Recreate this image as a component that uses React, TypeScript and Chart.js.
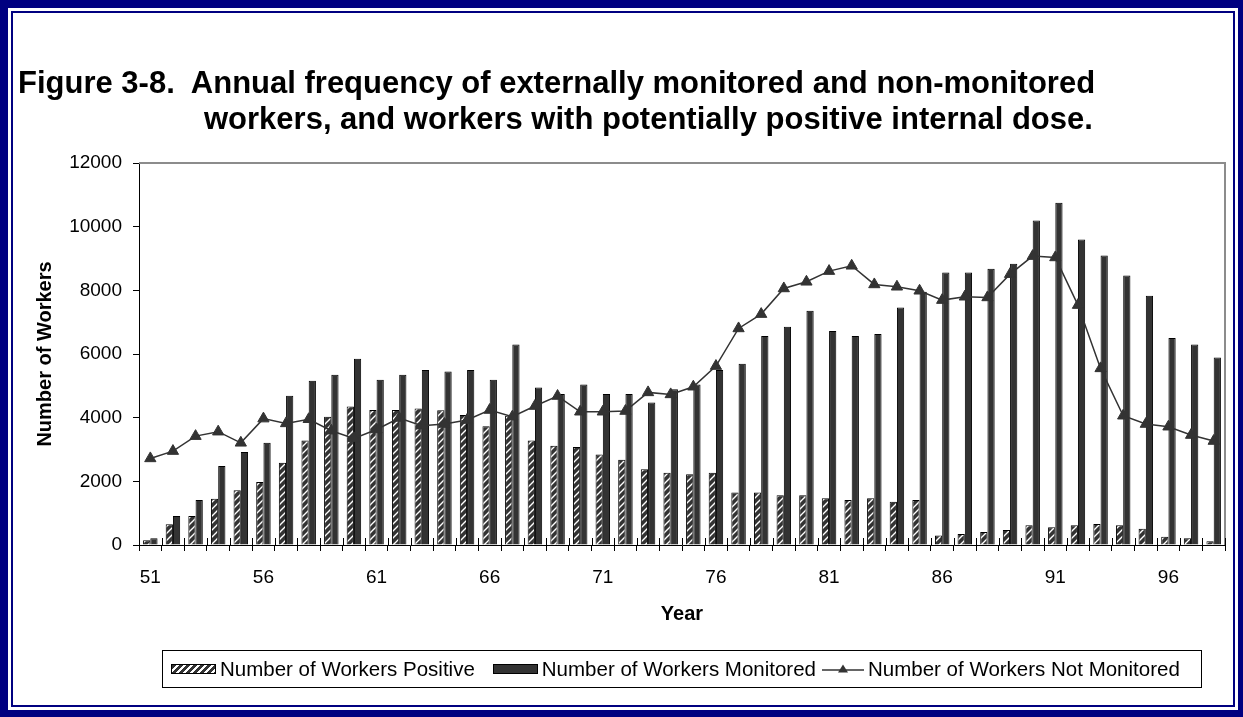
import React, { useEffect, useRef } from 'react';
import { Chart, registerables } from 'chart.js';

Chart.register(...registerables);

const years = [
  '51', '52', '53', '54', '55', '56', '57', '58', '59', '60',
  '61', '62', '63', '64', '65', '66', '67', '68', '69', '70',
  '71', '72', '73', '74', '75', '76', '77', '78', '79', '80',
  '81', '82', '83', '84', '85', '86', '87', '88', '89', '90',
  '91', '92', '93', '94', '95', '96', '97', '98',
];

const workersPositive = [
  150, 650, 910, 1455, 1717, 1978, 2585, 3286, 4030, 4354,
  4240, 4240, 4290, 4230, 4080, 3730, 4060, 3280, 3120, 3080,
  2840, 2680, 2380, 2270, 2220, 2270, 1650, 1650, 1560, 1560,
  1465, 1410, 1465, 1360, 1410, 300, 345, 410, 470, 620,
  555, 620, 660, 620, 510, 260, 210, 115,
];

const workersMonitored = [
  210, 910, 1413, 2480, 2920, 3213, 4690, 5160, 5350, 5850,
  5190, 5350, 5495, 5450, 5495, 5190, 6300, 4950, 4740, 5045,
  4740, 4740, 4480, 4890, 5040, 5495, 5694, 6563, 6856, 7358,
  6720, 6563, 6626, 7463, 7955, 8562, 8562, 8677, 8834, 10195,
  10749, 9598, 9096, 8468, 7829, 6500, 6301, 5893,
];

const workersNotMonitored = [
  2720, 2950, 3420, 3560, 3210, 3970, 3820, 3950, 3590, 3350,
  3630, 3990, 3750, 3800, 3925, 4240, 4030, 4365, 4680, 4186,
  4186, 4208, 4794, 4731, 4972, 5621, 6803, 7253, 8059, 8268,
  8604, 8771, 8185, 8112, 7986, 7693, 7798, 7777, 8509, 9075,
  9033, 7536, 5548, 4061, 3800, 3716, 3454, 3266,
];

const yAxisTicks = [0, 2000, 4000, 6000, 8000, 10000, 12000];
const labelledYears = ['51', '56', '61', '66', '71', '76', '81', '86', '91', '96'];

const titleLine1 = 'Figure 3-8.  Annual frequency of externally monitored and non-monitored';
const titleLine2 = 'workers, and workers with potentially positive internal dose.';
const legendLabels = [
  'Number of Workers Positive',
  'Number of Workers Monitored',
  'Number of Workers Not Monitored',
];
const xTitle = 'Year';
const yTitle = 'Number of Workers';

const FONT = '"Liberation Sans", Arial, Helvetica, sans-serif';
const NAVY = '#000080';
const DARK = '#333333';

function makeHatch(): CanvasPattern | string {
  const c = document.createElement('canvas');
  c.width = 7;
  c.height = 7;
  const g = c.getContext('2d');
  if (!g) return DARK;
  g.fillStyle = DARK;
  g.fillRect(0, 0, 7, 7);
  g.strokeStyle = '#ffffff';
  g.lineWidth = 1.4;
  g.beginPath();
  g.moveTo(-1, 8);
  g.lineTo(8, -1);
  g.moveTo(-2, 2);
  g.lineTo(2, -2);
  g.moveTo(5, 9);
  g.lineTo(9, 5);
  g.stroke();
  const p = g.createPattern(c, 'repeat');
  return p || DARK;
}

const plotFrame = {
  id: 'plotFrame',
  beforeDatasetsDraw(chart: any) {
    const { ctx, chartArea } = chart;
    const { left, top, right, bottom } = chartArea;
    ctx.save();
    ctx.strokeStyle = '#8c8c8c';
    ctx.lineWidth = 2;
    ctx.beginPath();
    ctx.moveTo(left, top);
    ctx.lineTo(right, top);
    ctx.lineTo(right, bottom);
    ctx.stroke();
    // inner half of the crossing category ticks
    const xs = chart.scales.x;
    ctx.strokeStyle = '#000';
    ctx.lineWidth = 1;
    ctx.beginPath();
    for (let i = 0; i <= years.length; i++) {
      const px = Math.round(xs.getPixelForValue(i - 0.5)) + 0.5;
      ctx.moveTo(px, bottom);
      ctx.lineTo(px, bottom - 7);
    }
    ctx.stroke();
    ctx.restore();
  },
};

export default function App() {
  const canvasRef = useRef<HTMLCanvasElement | null>(null);

  useEffect(() => {
    const canvas = canvasRef.current;
    if (!canvas) return;
    const hatch = makeHatch();
    const chart = new Chart(canvas, {
      type: 'bar',
      data: {
        labels: years,
        datasets: [
          {
            type: 'bar',
            label: legendLabels[0],
            data: workersPositive,
            backgroundColor: hatch as any,
            borderColor: '#000',
            borderWidth: 1,
            barPercentage: 1,
            categoryPercentage: 0.64,
            order: 1,
          },
          {
            type: 'bar',
            label: legendLabels[1],
            data: workersMonitored,
            backgroundColor: DARK,
            borderColor: '#000',
            borderWidth: 1,
            barPercentage: 1,
            categoryPercentage: 0.64,
            order: 1,
          },
          {
            type: 'line',
            label: legendLabels[2],
            data: workersNotMonitored,
            borderColor: DARK,
            borderWidth: 1.5,
            pointStyle: 'triangle',
            pointRadius: 6.5,
            pointBackgroundColor: DARK,
            pointBorderColor: DARK,
            pointBorderWidth: 1,
            tension: 0,
            order: 0,
          } as any,
        ],
      },
      options: {
        responsive: false,
        animation: false,
        devicePixelRatio: 1,
        layout: { padding: { left: 33, right: 18, top: 163, bottom: 82 } },
        plugins: {
          legend: { display: false },
          tooltip: { enabled: false },
          title: { display: false },
        },
        scales: {
          x: {
            grid: {
              display: true,
              drawOnChartArea: false,
              offset: true,
              tickLength: 6,
              color: '#000',
              lineWidth: 1,
            },
            border: { display: true, color: '#000', width: 1 },
            ticks: {
              autoSkip: false,
              maxRotation: 0,
              minRotation: 0,
              padding: 15,
              color: '#000',
              font: { size: 19, family: FONT },
              callback: (_v: any, i: number) =>
                labelledYears.includes(years[i]) ? years[i] : '',
            },
            title: {
              display: true,
              text: xTitle,
              color: '#000',
              font: { size: 20, weight: 'bold', family: FONT },
              padding: { top: 0, bottom: 9 },
            },
            afterFit: (s: any) => {
              s.height = 90;
            },
          },
          y: {
            min: 0,
            max: 12000,
            afterBuildTicks: (s: any) => {
              s.ticks = yAxisTicks.map((v) => ({ value: v }));
            },
            grid: {
              drawOnChartArea: false,
              tickLength: 6,
              color: '#000',
              lineWidth: 1,
            },
            border: { display: true, color: '#000', width: 1 },
            ticks: {
              padding: 11,
              color: '#000',
              font: { size: 19, family: FONT },
              callback: (v: any) => String(v),
            },
            title: {
              display: true,
              text: yTitle,
              color: '#000',
              font: { size: 20, weight: 'bold', family: FONT },
              padding: { top: 0, bottom: 0 },
            },
            afterFit: (s: any) => {
              s.width = 106;
            },
          },
        },
      } as any,
      plugins: [plotFrame],
    });
    return () => {
      chart.destroy();
    };
  }, []);

  const swatchBase: React.CSSProperties = {
    width: 45,
    height: 10,
    boxSizing: 'border-box',
    border: '1px solid #000',
    flexShrink: 0,
  };

  return (
    <div
      style={{
        position: 'fixed',
        left: 0,
        top: 0,
        width: 1243,
        height: 717,
        background: '#fff',
        overflow: 'hidden',
        fontFamily: FONT,
      }}
    >
      <div
        style={{
          position: 'absolute',
          left: 0,
          top: 0,
          width: 1243,
          height: 717,
          boxSizing: 'border-box',
          borderStyle: 'solid',
          borderColor: NAVY,
          borderWidth: '8px 5px 7px 8px',
        }}
      >
        <div
          style={{
            position: 'absolute',
            left: 3,
            top: 3,
            right: 3,
            bottom: 3,
            border: `2px solid ${NAVY}`,
          }}
        />
      </div>
      <canvas
        ref={canvasRef}
        width={1243}
        height={717}
        style={{ position: 'absolute', left: 0, top: 0, width: 1243, height: 717 }}
      />
      <div
        style={{
          position: 'absolute',
          left: 18,
          top: 65,
          fontSize: 31,
          fontWeight: 'bold',
          lineHeight: '36px',
          color: '#000',
          whiteSpace: 'pre',
        }}
      >
        <div>{titleLine1}</div>
        <div style={{ marginLeft: 186 }}>{titleLine2}</div>
      </div>
      <div
        style={{
          position: 'absolute',
          left: 162,
          top: 650,
          width: 1040,
          height: 38,
          boxSizing: 'border-box',
          border: '1px solid #000',
          display: 'flex',
          alignItems: 'center',
          paddingLeft: 8,
          fontSize: 20.5,
          color: '#000',
          whiteSpace: 'nowrap',
        }}
      >
        <span
          style={{
            ...swatchBase,
            background: `repeating-linear-gradient(135deg, ${DARK} 0px, ${DARK} 3px, #fff 3px, #fff 5px)`,
          }}
        />
        <span style={{ marginLeft: 4 }}>{legendLabels[0]}</span>
        <span style={{ ...swatchBase, marginLeft: 18, background: DARK }} />
        <span style={{ marginLeft: 4 }}>{legendLabels[1]}</span>
        <svg width={42} height={14} style={{ marginLeft: 6, flexShrink: 0 }}>
          <line x1={0} y1={8} x2={42} y2={8} stroke={DARK} strokeWidth={1.5} />
          <polygon points="21,2.5 26,10.5 16,10.5" fill={DARK} />
        </svg>
        <span style={{ marginLeft: 4 }}>{legendLabels[2]}</span>
      </div>
    </div>
  );
}
